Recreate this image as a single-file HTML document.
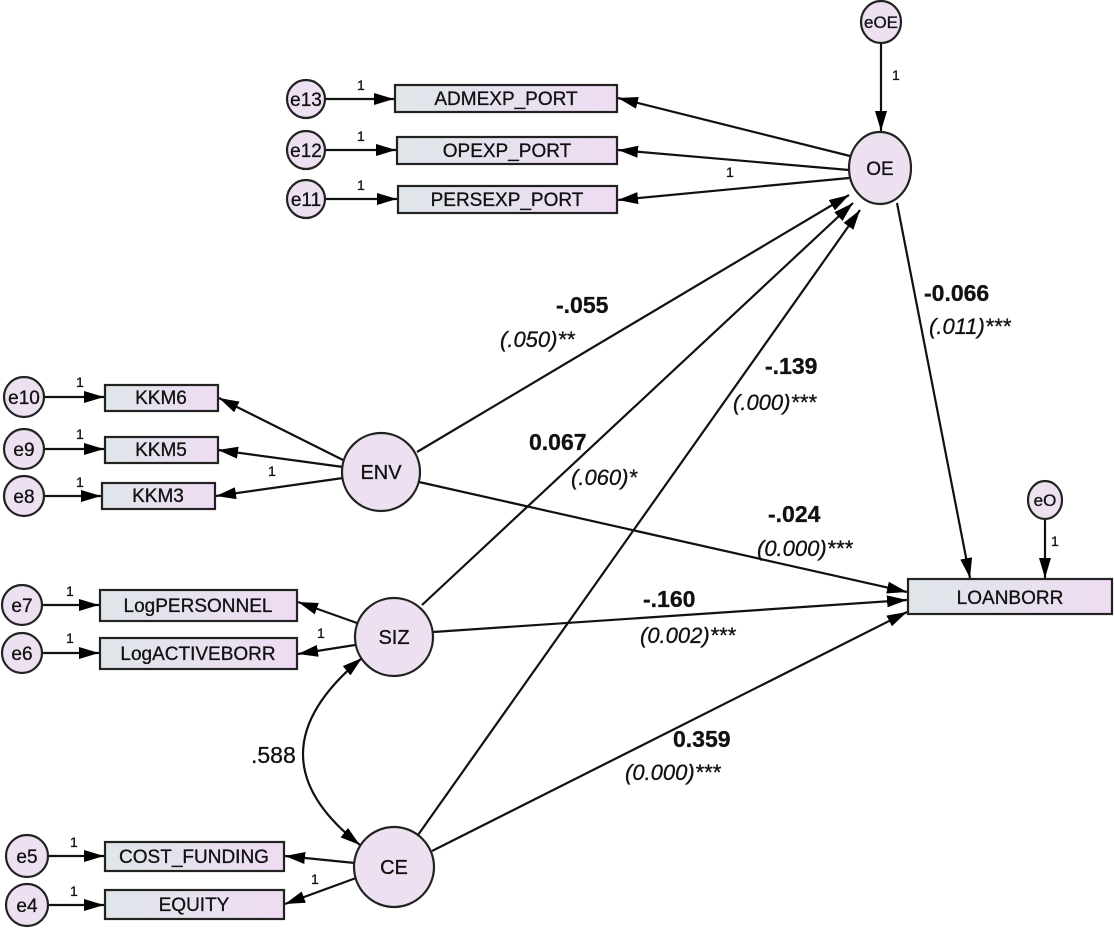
<!DOCTYPE html>
<html><head><meta charset="utf-8">
<style>
html,body{margin:0;padding:0;background:#fff;}
svg{display:block;}
text{font-family:"Liberation Sans",Arial,sans-serif;fill:#111;stroke:#111;stroke-width:0.3px;}
.bx{font-size:19px;text-anchor:middle;}
.one{font-size:14px;}
.b{font-size:23px;font-weight:bold;}
.i{font-size:22px;font-style:italic;}
</style></head><body>
<svg width="1114" height="931" viewBox="0 0 1114 931" xmlns="http://www.w3.org/2000/svg">
<defs>
<linearGradient id="g" x1="0" x2="1" y1="0" y2="0">
<stop offset="0" stop-color="#dfe6ea"/><stop offset="1" stop-color="#efdcf3"/>
</linearGradient>
<marker id="a" viewBox="0 0 20 12" refX="20" refY="6" markerWidth="20" markerHeight="12" markerUnits="userSpaceOnUse" orient="auto-start-reverse">
<path d="M0,0 L20,6 L0,12 z" fill="#000"/>
</marker>
</defs>
<g stroke="#111" stroke-width="2.2" fill="none">
<line x1="325" y1="99" x2="394" y2="99" marker-end="url(#a)"/>
<line x1="325" y1="150" x2="396" y2="150" marker-end="url(#a)"/>
<line x1="325" y1="199" x2="397" y2="199" marker-end="url(#a)"/>
<line x1="44" y1="397" x2="104" y2="397" marker-end="url(#a)"/>
<line x1="44" y1="449" x2="104" y2="449" marker-end="url(#a)"/>
<line x1="44" y1="496" x2="101" y2="496" marker-end="url(#a)"/>
<line x1="42" y1="605" x2="99" y2="605" marker-end="url(#a)"/>
<line x1="42" y1="653" x2="99" y2="653" marker-end="url(#a)"/>
<line x1="48" y1="856" x2="104" y2="856" marker-end="url(#a)"/>
<line x1="48" y1="905" x2="104" y2="905" marker-end="url(#a)"/>
<line x1="881" y1="44" x2="881" y2="131" marker-end="url(#a)"/>
<line x1="1045" y1="518" x2="1045" y2="578" marker-end="url(#a)"/>
<line x1="850" y1="156" x2="618" y2="98" marker-end="url(#a)"/>
<line x1="849" y1="170" x2="618" y2="150" marker-end="url(#a)"/>
<line x1="849" y1="178" x2="618" y2="200" marker-end="url(#a)"/>
<line x1="343" y1="460" x2="219" y2="398" marker-end="url(#a)"/>
<line x1="343" y1="467" x2="218" y2="450" marker-end="url(#a)"/>
<line x1="343" y1="478" x2="216" y2="496" marker-end="url(#a)"/>
<line x1="357" y1="623" x2="298" y2="602" marker-end="url(#a)"/>
<line x1="355" y1="645" x2="298" y2="654" marker-end="url(#a)"/>
<line x1="355" y1="863" x2="285" y2="856" marker-end="url(#a)"/>
<line x1="356" y1="878" x2="285" y2="904" marker-end="url(#a)"/>
<line x1="417" y1="452" x2="849" y2="195" marker-end="url(#a)"/>
<line x1="422" y1="605" x2="853" y2="203" marker-end="url(#a)"/>
<line x1="418" y1="835" x2="860" y2="210" marker-end="url(#a)"/>
<line x1="897" y1="203" x2="970" y2="578" marker-end="url(#a)"/>
<line x1="419" y1="482" x2="907" y2="592" marker-end="url(#a)"/>
<line x1="433" y1="632" x2="907" y2="600" marker-end="url(#a)"/>
<line x1="432" y1="851" x2="907" y2="612" marker-end="url(#a)"/>
<path d="M362,658 Q245,755 360,845" marker-start="url(#a)" marker-end="url(#a)"/>
</g>
<g stroke="#222" stroke-width="2.2" fill="url(#g)">
<rect x="395" y="85" width="222" height="27"/>
<rect x="397" y="137" width="220" height="27"/>
<rect x="398" y="186" width="219" height="27"/>
<rect x="105" y="385" width="113" height="26"/>
<rect x="105" y="437" width="113" height="26"/>
<rect x="102" y="483" width="113" height="26"/>
<rect x="100" y="590" width="197" height="31"/>
<rect x="100" y="638" width="197" height="31"/>
<rect x="105" y="842" width="179" height="29"/>
<rect x="105" y="890" width="179" height="29"/>
<rect x="908" y="579" width="204" height="35"/>
</g>
<g stroke="#222" stroke-width="2.2" fill="#ede0f0">
<ellipse cx="881" cy="22" rx="20" ry="21"/>
<ellipse cx="880" cy="168" rx="31" ry="36"/>
<circle cx="306" cy="99" r="19"/>
<circle cx="306" cy="150" r="19"/>
<circle cx="306" cy="199" r="19"/>
<circle cx="24" cy="397" r="20"/>
<circle cx="24" cy="449" r="20"/>
<circle cx="24" cy="496" r="20"/>
<circle cx="381" cy="472" r="39"/>
<circle cx="22" cy="605" r="20"/>
<circle cx="22" cy="653" r="20"/>
<circle cx="394" cy="637" r="39"/>
<circle cx="27" cy="856" r="21"/>
<circle cx="27" cy="905" r="21"/>
<circle cx="394" cy="867" r="40"/>
<ellipse cx="1045" cy="500" rx="17" ry="19"/>
</g>
<g font-size="19" text-anchor="middle">
<text x="881" y="28" style="font-size:17px">eOE</text>
<text x="880" y="175">OE</text>
<text x="306" y="106">e13</text>
<text x="306" y="157">e12</text>
<text x="306" y="206">e11</text>
<text x="24" y="404">e10</text>
<text x="24" y="456">e9</text>
<text x="24" y="503">e8</text>
<text x="381" y="479" style="font-size:20px">ENV</text>
<text x="22" y="612">e7</text>
<text x="22" y="660">e6</text>
<text x="394" y="644" style="font-size:20px">SIZ</text>
<text x="27" y="863">e5</text>
<text x="27" y="912">e4</text>
<text x="394" y="874" style="font-size:20px">CE</text>
<text x="1045" y="506" style="font-size:17px">eO</text>
</g>
<text class="bx" x="506" y="105">ADMEXP_PORT</text>
<text class="bx" x="507" y="157">OPEXP_PORT</text>
<text class="bx" x="507" y="206">PERSEXP_PORT</text>
<text class="bx" x="161" y="404">KKM6</text>
<text class="bx" x="161" y="456">KKM5</text>
<text class="bx" x="158" y="502">KKM3</text>
<text class="bx" x="198" y="612">LogPERSONNEL</text>
<text class="bx" x="198" y="660">LogACTIVEBORR</text>
<text class="bx" x="194" y="863">COST_FUNDING</text>
<text class="bx" x="194" y="911">EQUITY</text>
<text class="bx" x="1010" y="604">LOANBORR</text>
<g class="one">
<text x="357" y="90">1</text><text x="357" y="141">1</text><text x="357" y="190">1</text>
<text x="76" y="387">1</text><text x="76" y="439">1</text><text x="76" y="487">1</text>
<text x="66" y="596">1</text><text x="66" y="643">1</text>
<text x="70" y="847">1</text><text x="70" y="896">1</text>
<text x="892" y="80">1</text><text x="1051" y="546">1</text>
<text x="726" y="177">1</text><text x="268" y="476">1</text>
<text x="317" y="638">1</text><text x="311" y="884">1</text>
</g>
<text class="b" x="556" y="313">-.055</text>
<text class="i" x="500" y="347">(.050)**</text>
<text class="b" x="924" y="301">-0.066</text>
<text class="i" x="929" y="334">(.011)***</text>
<text class="b" x="765" y="374">-.139</text>
<text class="i" x="733" y="410">(.000)***</text>
<text class="b" x="529" y="450">0.067</text>
<text class="i" x="571" y="485">(.060)*</text>
<text class="b" x="768" y="522">-.024</text>
<text class="i" x="757" y="556">(0.000)***</text>
<text class="b" x="643" y="607">-.160</text>
<text class="i" x="640" y="643">(0.002)***</text>
<text class="b" x="673" y="747">0.359</text>
<text class="i" x="625" y="780">(0.000)***</text>
<text x="251" y="763" style="font-size:23px">.588</text>
</svg>
</body></html>
